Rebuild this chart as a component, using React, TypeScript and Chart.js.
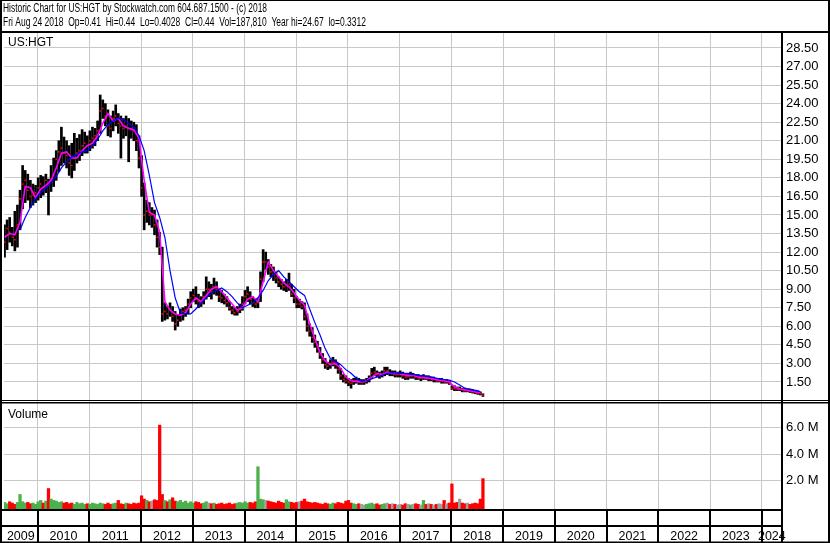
import React, { useEffect, useRef } from 'react';
import { Chart, registerables } from 'chart.js';

Chart.register(...registerables);

// ---- time base (fractional years) ----
const START_YEAR = 2009.36;
const BAR_STEP = 0.05; // years between price/volume samples
const MA_STEP = 0.1; // years between moving-average samples
const X_MIN = 2009.35;
const X_MAX = 2024.392;

// ---- price (US$) ----
const priceHigh = [
  14.2, 14.6, 14.8, 14.0, 15.3, 15.8, 17.0, 19.0, 18.6, 18.3, 17.8, 17.5, 17.4,
  18.0, 18.2, 18.1, 18.3, 17.9, 19.0, 19.6, 20.2, 21.0, 22.1, 21.3, 21.0, 20.6, 20.8, 21.6, 21.2, 21.5, 21.9, 21.7, 21.4,
  21.8, 22.1, 22.0, 22.6, 24.7, 24.3, 24.0, 23.5, 23.0, 23.4, 23.9, 23.2, 23.0, 22.8, 23.0, 22.8, 22.6, 22.5, 22.3, 21.4,
  19.8, 17.6, 16.2, 16.0, 15.6, 15.4, 14.6, 13.6, 12.4, 7.9, 7.6, 7.9, 7.6, 7.2, 6.9, 7.4, 7.5, 7.6, 8.2, 8.8,
  9.0, 9.2, 8.6, 8.4, 8.8, 10.0, 9.6, 9.4, 9.9, 9.6, 9.0, 8.9, 8.6, 8.4, 8.0, 7.6, 7.5, 7.6, 7.8, 8.4,
  8.9, 9.2, 8.8, 8.4, 8.2, 8.3, 10.4, 12.2, 12.0, 11.4, 11.0, 10.8, 10.4, 10.0, 9.8, 9.6, 9.8, 10.3, 9.4, 9.0,
  8.4, 8.2, 8.0, 7.9, 7.0, 6.2, 5.9, 5.3, 4.8, 4.3, 3.8, 3.4, 3.1, 3.3, 3.5, 3.3, 3.0, 2.6, 2.1, 2.0,
  1.8, 1.7, 1.8, 1.9, 1.8, 1.7, 1.7, 1.8, 2.0, 2.6, 2.7, 2.4, 2.3, 2.4, 2.7, 2.7, 2.5, 2.4, 2.4, 2.3,
  2.4, 2.3, 2.2, 2.1, 2.3, 2.2, 2.1, 2.1, 2.0, 2.1, 2.0, 2.0, 1.9, 1.9, 1.8, 1.8, 1.8, 1.7, 1.7, 1.6,
  1.2, 1.2, 1.1, 1.1, 1.0, 1.0, 0.95, 0.95, 0.9, 0.85, 0.8, 0.7, 0.55,
];
const priceLow = [
  11.6, 12.2, 12.8, 12.5, 12.1, 12.4, 13.8, 15.5, 16.0, 16.2, 15.6, 15.8, 16.0,
  16.2, 16.4, 16.6, 16.8, 15.0, 16.9, 17.3, 17.8, 18.5, 19.0, 19.2, 18.8, 18.2, 18.0, 18.6, 19.2, 19.4, 19.8, 20.0, 20.0,
  20.2, 20.4, 20.6, 21.0, 21.6, 22.8, 22.2, 21.4, 21.3, 21.8, 22.2, 21.6, 19.6, 21.2, 21.4, 19.3, 21.2, 21.0, 20.2, 18.8,
  16.5, 13.8, 14.4, 14.2, 14.0, 13.4, 12.4, 11.8, 6.4, 6.5, 6.6, 6.8, 6.4, 5.7, 6.0, 6.4, 6.5, 6.8, 7.0, 7.5,
  8.0, 7.8, 7.5, 7.6, 7.8, 8.2, 8.4, 8.2, 8.6, 8.5, 8.0, 7.9, 7.8, 7.6, 7.3, 7.0, 6.9, 6.9, 7.1, 7.3,
  7.8, 8.0, 7.8, 7.6, 7.5, 7.5, 8.0, 9.6, 10.6, 10.2, 10.0, 9.7, 9.5, 9.2, 9.0, 8.9, 8.8, 8.9, 8.4, 7.9,
  7.5, 7.5, 7.4, 6.5, 5.6, 5.2, 4.7, 4.3, 3.9, 3.4, 3.0, 2.6, 2.5, 2.6, 2.8, 2.6, 2.2, 1.7, 1.5, 1.4,
  1.2, 1.0, 1.3, 1.4, 1.3, 1.3, 1.3, 1.4, 1.5, 1.8, 2.0, 1.9, 1.8, 1.9, 2.0, 2.1, 2.0, 2.0, 1.9, 1.9,
  1.9, 1.8, 1.7, 1.7, 1.8, 1.8, 1.7, 1.7, 1.6, 1.7, 1.7, 1.6, 1.6, 1.5, 1.5, 1.5, 1.4, 1.4, 1.4, 1.3,
  0.9, 0.8, 0.8, 0.8, 0.7, 0.7, 0.7, 0.65, 0.6, 0.55, 0.5, 0.45, 0.33,
];
const priceClose = [
  12.8, 13.9, 13.6, 13.2, 13.0, 14.2, 16.3, 17.5, 17.8, 17.0, 16.5, 16.6, 16.8,
  17.2, 17.5, 17.2, 17.8, 17.4, 17.9, 18.2, 19.5, 20.1, 20.4, 20.0, 19.8, 19.2, 19.0, 19.6, 20.0, 20.2, 20.6, 20.8, 20.6,
  21.0, 21.2, 21.4, 21.8, 23.4, 23.6, 23.0, 22.2, 22.0, 22.8, 23.0, 22.4, 22.2, 22.0, 22.2, 22.0, 21.9, 21.8, 21.0, 19.6,
  17.2, 15.0, 15.3, 15.0, 15.0, 14.2, 13.2, 12.4, 7.0, 7.2, 7.0, 7.4, 6.8, 6.2, 6.5, 6.9, 7.2, 7.3, 7.8, 8.3,
  8.5, 8.2, 8.0, 7.9, 8.4, 9.0, 9.0, 8.8, 9.2, 9.0, 8.4, 8.3, 8.1, 7.9, 7.5, 7.3, 7.1, 7.2, 7.4, 7.8,
  8.4, 8.6, 8.2, 7.9, 7.8, 7.9, 9.8, 11.2, 11.2, 10.8, 10.4, 10.2, 9.9, 9.6, 9.4, 9.2, 9.3, 9.4, 8.6, 8.3,
  7.8, 7.8, 7.6, 6.8, 6.0, 5.6, 5.1, 4.7, 4.2, 3.7, 3.3, 2.9, 2.8, 3.0, 3.1, 2.9, 2.5, 2.0, 1.7, 1.6,
  1.5, 1.4, 1.5, 1.6, 1.5, 1.5, 1.5, 1.6, 1.8, 2.2, 2.3, 2.1, 2.0, 2.1, 2.4, 2.4, 2.2, 2.2, 2.1, 2.1,
  2.1, 2.0, 1.9, 1.9, 2.0, 2.0, 1.9, 1.8, 1.8, 1.9, 1.8, 1.8, 1.7, 1.7, 1.6, 1.6, 1.6, 1.5, 1.5, 1.4,
  1.0, 0.95, 0.9, 0.9, 0.85, 0.8, 0.8, 0.75, 0.7, 0.65, 0.6, 0.55, 0.44,
];

// ---- moving averages (US$) ----
const maShort = [
  13.2, 13.5, 13.4, 14.4, 17.3, 17.2, 16.4, 17.1, 17.4, 17.8,
  18.8, 20.0, 20.1, 19.6, 19.6, 20.2, 20.6, 20.8, 21.4, 22.4,
  23.2, 22.6, 22.8, 22.2, 22.0, 21.9, 21.2, 17.8, 15.2, 15.0,
  13.6, 8.0, 7.3, 7.0, 6.9, 7.1, 7.8, 8.3, 8.0, 8.5,
  9.0, 9.2, 8.8, 8.3, 7.8, 7.3, 7.5, 8.2, 8.4, 8.0,
  9.6, 11.2, 10.5, 10.0, 9.5, 9.2, 8.7, 8.1, 7.7, 6.2,
  5.0, 3.9, 3.2, 2.9, 3.0, 2.6, 1.9, 1.6, 1.55, 1.5,
  1.6, 1.9, 2.2, 2.1, 2.3, 2.2, 2.2, 2.1, 2.0, 2.05,
  1.9, 1.85, 1.8, 1.75, 1.65, 1.6, 1.5, 1.1, 0.95, 0.88,
  0.8, 0.72, 0.62,
];
const maLong = [
  null, null, null, 13.8, 14.8, 15.6, 16.3, 16.8, 17.2, 17.6,
  18.1, 18.8, 19.3, 19.7, 19.9, 20.1, 20.2, 20.6, 21.1, 21.8,
  22.3, 22.6, 22.8, 22.7, 22.4, 22.1, 21.4, 20.2, 18.2, 16.0,
  14.8, 13.2, 10.5, 8.3, 7.1, 7.0, 7.0, 7.4, 7.9, 8.3,
  8.7, 8.9, 9.1, 8.8, 8.4, 7.9, 7.5, 7.7, 7.9, 8.3,
  8.9, 9.7, 10.2, 10.5, 10.0, 9.6, 9.2, 8.8, 8.5, 7.4,
  6.3, 5.3, 4.2, 3.4, 3.2, 2.9, 2.5, 2.2, 1.8, 1.55,
  1.6, 1.75, 1.9, 2.05, 2.2, 2.25, 2.2, 2.2, 2.2, 2.1,
  2.05, 2.0, 1.95, 1.85, 1.75, 1.7, 1.65, 1.5, 1.25, 1.0,
  0.88, 0.8, 0.72,
];

// ---- volume (millions of shares) ----
const volumeM = [
  0.35, 0.25, 0.4, 0.3, 0.2, 0.35, 0.95, 0.4, 0.3, 0.35, 0.25, 0.3, 0.2,
  0.4, 0.5, 0.3, 0.45, 1.4, 0.6, 0.5, 0.45, 0.35, 0.4, 0.3, 0.35, 0.25, 0.3, 0.2, 0.35, 0.25, 0.3, 0.2, 0.25,
  0.2, 0.3, 0.25, 0.2, 0.3, 0.25, 0.2, 0.3, 0.2, 0.25, 0.3, 0.5, 0.25, 0.2, 0.3, 0.25, 0.2, 0.3, 0.25, 0.3,
  0.85, 0.6, 0.5, 0.4, 0.45, 0.55, 0.5, 6.2, 0.95, 0.5, 0.4, 0.55, 0.7, 0.45, 0.4, 0.5, 0.35, 0.45, 0.3, 0.4,
  0.3, 0.4, 0.35, 0.25, 0.3, 0.4, 0.3, 0.25, 0.3, 0.2, 0.25, 0.3, 0.2, 0.25, 0.3, 0.2, 0.25, 0.3, 0.35, 0.3,
  0.4, 0.3, 0.35, 0.3, 0.4, 3.05, 0.6, 0.55, 0.5, 0.45, 0.4, 0.35, 0.3, 0.45, 0.35, 0.3, 0.55, 0.4, 0.35, 0.3,
  0.35, 0.4, 0.45, 0.6, 0.4, 0.35, 0.3, 0.35, 0.3, 0.25, 0.2, 0.3, 0.25, 0.2, 0.3, 0.25, 0.35, 0.3, 0.25, 0.45,
  0.5, 0.3, 0.25, 0.2, 0.25, 0.2, 0.15, 0.2, 0.25, 0.3, 0.2, 0.25, 0.15, 0.2, 0.25, 0.3, 0.2, 0.25, 0.2, 0.15,
  0.2, 0.15, 0.25, 0.2, 0.15, 0.2, 0.25, 0.2, 0.15, 0.5, 0.2, 0.25, 0.2, 0.15, 0.2, 0.25, 0.2, 0.5, 0.25, 0.3,
  1.75, 0.3, 0.35, 0.6, 0.3, 0.25, 0.3, 0.2, 0.25, 0.3, 0.25, 0.6, 2.15,
];

// ---- axes ----
const priceTicks = [1.5, 3, 4.5, 6, 7.5, 9, 10.5, 12, 13.5, 15, 16.5, 18, 19.5, 21, 22.5, 24, 25.5, 27, 28.5];
const volumeTicks = [2, 4, 6];
const yearGrid = [2010, 2011, 2012, 2013, 2014, 2015, 2016, 2017, 2018, 2019, 2020, 2021, 2022, 2023, 2024];
const yearLabels = [2009, 2010, 2011, 2012, 2013, 2014, 2015, 2016, 2017, 2018, 2019, 2020, 2021, 2022, 2023, 2024];
const P_MIN = -0.117;
const P_MAX = 29.71;
const VOL_MIN = -0.15;
const VOL_MAX = 7.95;

const TITLE_1 = 'Historic Chart for US:HGT by Stockwatch.com 604.687.1500 - (c) 2018';
const TITLE_2 = 'Fri Aug 24 2018  Op=0.41  Hi=0.44  Lo=0.4028  Cl=0.44  Vol=187,810  Year hi=24.67  lo=0.3312';
const SYMBOL = 'US:HGT';
const VOLUME_LABEL = 'Volume';

const FONT = '"Liberation Sans", Arial, sans-serif';
const GRID = '#c8c8c8';
const UP = '#4cb04c';
const DOWN = '#ff0000';
const FLAT = '#a0a0a0';

const barX = (i: number) => START_YEAR + i * BAR_STEP;
const maX = (j: number) => START_YEAR + j * MA_STEP;

const volColors = volumeM.map((_, i) => {
  if (i === 0) return UP;
  if (priceClose[i] > priceClose[i - 1]) return UP;
  if (priceClose[i] < priceClose[i - 1]) return DOWN;
  return FLAT;
});

const framePlugin = {
  id: 'stockFrame',
  beforeDraw(chart: any) {
    const { ctx } = chart;
    ctx.save();
    ctx.fillStyle = '#ffffff';
    ctx.fillRect(0, 0, chart.width, chart.height);
    ctx.restore();
  },
  afterDraw(chart: any) {
    const { ctx, chartArea: a } = chart;
    const xs = chart.scales.x;
    const yv = chart.scales.yv;
    const W = chart.width;
    const H = chart.height;
    ctx.save();
    ctx.fillStyle = '#000';
    // outer frame
    ctx.fillRect(0, 0, W, 1);
    ctx.fillRect(0, 0, 2, H);
    ctx.fillRect(W - 2, 0, 2, H);
    ctx.fillRect(0, H - 1.5, W, 1.5);
    // title separator
    ctx.fillRect(0, a.top - 2, W, 2);
    // pane separator (double line)
    ctx.fillRect(0, yv.top - 2, W, 1);
    ctx.fillRect(0, yv.top, W, 1.5);
    // date rows
    ctx.fillRect(0, a.bottom, a.right, 2);
    ctx.fillRect(0, a.bottom + 16, a.right, 2);
    // right axis separator
    ctx.fillRect(a.right - 1, a.top - 2, 2, H - a.top + 2);
    // year separators in the date rows
    for (const yr of yearGrid) {
      const px = xs.getPixelForValue(yr);
      ctx.fillRect(Math.round(px) - 1, a.bottom, 2, H - a.bottom);
    }

    // title lines (condensed)
    ctx.textBaseline = 'alphabetic';
    ctx.textAlign = 'left';
    ctx.font = `12px ${FONT}`;
    const drawScaled = (s: string, x: number, y: number, w: number) => {
      const m = ctx.measureText(s).width;
      ctx.save();
      ctx.translate(x, y);
      ctx.scale(w / m, 1);
      ctx.fillText(s, 0, 0);
      ctx.restore();
    };
    drawScaled(TITLE_1, 3, 11.5, 264);
    drawScaled(TITLE_2, 3, 25.5, 363);

    ctx.font = `12px ${FONT}`;
    ctx.fillText(SYMBOL, 8, a.top + 13);
    ctx.fillText(VOLUME_LABEL, 8, yv.top + 16);

    // year labels
    ctx.font = `12.5px ${FONT}`;
    ctx.textAlign = 'center';
    for (const yr of yearLabels) {
      const l = Math.max(a.left, xs.getPixelForValue(yr));
      const r = Math.min(a.right, xs.getPixelForValue(yr + 1));
      ctx.fillText(String(yr), (l + r) / 2, H - 3.5);
    }
    ctx.restore();
  },
};

export default function App() {
  const ref = useRef<HTMLCanvasElement>(null);
  useEffect(() => {
    document.body.style.margin = '0';
    const canvas = ref.current;
    if (!canvas) return;
    const chart = new Chart(canvas, {
      type: 'line',
      data: {
        datasets: [
          {
            type: 'line',
            label: 'Long MA',
            data: maLong.map((v, j) => ({ x: maX(j), y: v })),
            borderColor: '#0000ff',
            borderWidth: 1.2,
            pointRadius: 0,
            pointHoverRadius: 0,
            tension: 0,
            yAxisID: 'y',
            order: 1,
          },
          {
            type: 'line',
            label: 'Short MA',
            data: maShort.map((v, j) => ({ x: maX(j), y: v })),
            borderColor: '#ff00ff',
            borderWidth: 1.6,
            pointRadius: 0,
            pointHoverRadius: 0,
            tension: 0,
            yAxisID: 'y',
            order: 2,
          },
          {
            type: 'line',
            label: 'Close',
            data: priceClose.map((v, i) => ({ x: barX(i), y: v })),
            showLine: false,
            pointStyle: 'rect',
            pointRadius: 1.1,
            pointBackgroundColor: '#ff0000',
            pointBorderWidth: 0,
            yAxisID: 'y',
            order: 3,
          },
          {
            type: 'bar',
            label: 'High-Low',
            data: priceHigh.map((h, i) => ({ x: barX(i), y: [priceLow[i], h] })),
            backgroundColor: '#000000',
            barThickness: 2,
            grouped: false,
            yAxisID: 'y',
            order: 4,
          },
          {
            type: 'bar',
            label: 'Volume',
            data: volumeM.map((v, i) => ({ x: barX(i), y: v })),
            backgroundColor: volColors,
            barThickness: 2.6,
            grouped: false,
            base: VOL_MIN,
            yAxisID: 'yv',
            order: 5,
          },
        ] as any,
      },
      options: {
        animation: false,
        responsive: false,
        devicePixelRatio: 1,
        layout: { padding: { left: 2, top: 33, right: 0, bottom: 0 } },
        plugins: { legend: { display: false }, tooltip: { enabled: false }, title: { display: false } },
        scales: {
          x: {
            type: 'linear',
            position: 'bottom',
            min: X_MIN,
            max: X_MAX,
            offset: false,
            afterBuildTicks: (s: any) => {
              s.ticks = yearGrid.map((v) => ({ value: v }));
            },
            afterFit: (s: any) => {
              s.height = 34;
            },
            grid: { color: GRID, lineWidth: 1, drawTicks: false, offset: false },
            border: { display: false },
            ticks: { display: false },
          },
          y: {
            type: 'linear',
            position: 'right',
            stack: 'panes',
            stackWeight: 369,
            min: P_MIN,
            max: P_MAX,
            afterBuildTicks: (s: any) => {
              s.ticks = priceTicks.map((v) => ({ value: v }));
            },
            afterFit: (s: any) => {
              s.width = 48;
            },
            grid: { color: GRID, lineWidth: 1, drawTicks: false },
            border: { display: false },
            ticks: {
              autoSkip: false,
              padding: 4,
              color: '#000',
              font: { family: FONT, size: 13 },
              callback: (v: any) => Number(v).toFixed(2),
            },
          },
          yv: {
            type: 'linear',
            position: 'right',
            stack: 'panes',
            stackWeight: 107,
            min: VOL_MIN,
            max: VOL_MAX,
            afterBuildTicks: (s: any) => {
              s.ticks = volumeTicks.map((v) => ({ value: v }));
            },
            afterFit: (s: any) => {
              s.width = 48;
            },
            grid: { color: GRID, lineWidth: 1, drawTicks: false },
            border: { display: false },
            ticks: {
              autoSkip: false,
              padding: 4,
              color: '#000',
              font: { family: FONT, size: 13 },
              callback: (v: any) => `${Number(v).toFixed(1)} M`,
            },
          },
        },
      } as any,
      plugins: [framePlugin],
    });
    return () => chart.destroy();
  }, []);

  return (
    <div style={{ width: 830, height: 543 }}>
      <canvas ref={ref} width={830} height={543} style={{ display: 'block', width: 830, height: 543 }} />
    </div>
  );
}
